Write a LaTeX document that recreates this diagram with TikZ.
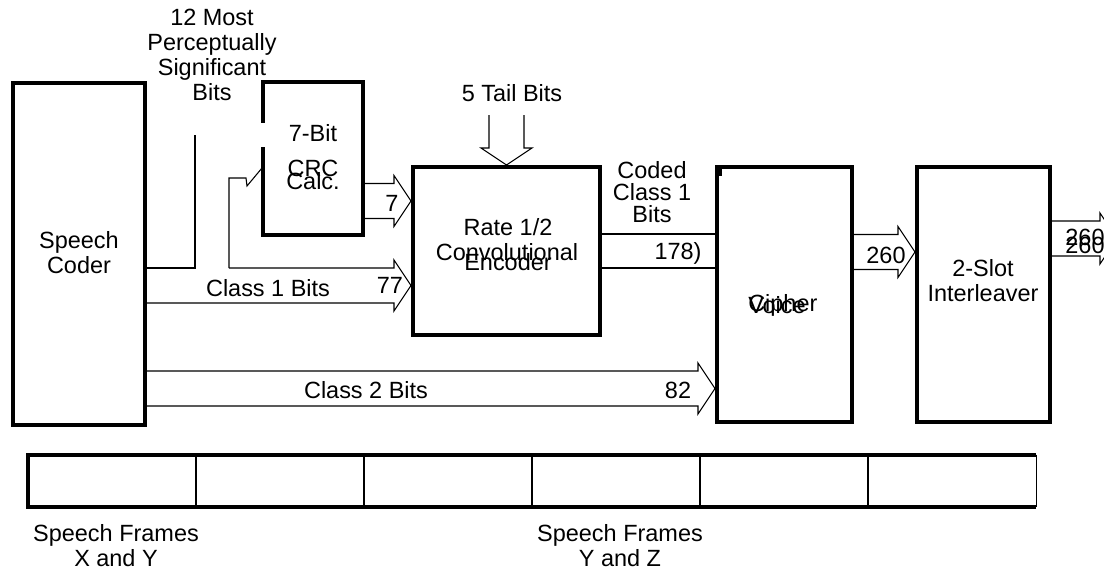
\documentclass[tikz,border=0pt]{standalone}
\usepackage{fontspec}
\setmainfont{Liberation Sans}
\usetikzlibrary{calc,fit}

\newcommand{\fatarrow}[3]{%
  \draw[wire] ($(#1 |- #3)+(0,-17.5)$) -- ($(#3)+(-17,-17.5)$) -- ($(#3)+(-17,-25.5)$)
    -- (#3) -- ($(#3)+(-17,25.5)$) -- ($(#3)+(-17,17.5)$) -- ($(#2 |- #3)+(0,17.5)$);}

\begin{document}
\begin{tikzpicture}[x=0.75pt,y=-0.75pt,
  box/.style={draw,line width=3pt,inner sep=0pt},
  wire/.style={line width=0.8pt,line join=miter},
  lbl/.style={inner sep=0pt,align=center,font=\fontsize{17.6}{18.8}\selectfont}]
\useasboundingbox (0,0) rectangle (1104,572);

\node[box,fit={(13,83) (145,425)}] (coder) {};
\node[inner sep=0pt,fit={(263,82) (363,235)}] (crc) {};
\node[box,fit={(413,167) (600,335)}] (enc) {};
\node[box,fit={(717,167) (852,422)}] (cipher) {};
\node[box,fit={(917,167) (1050,422)}] (ilv) {};
\node[inner sep=0pt,fit={(28,455) (1036,507)}] (frames) {};

\draw[line width=3pt] ($(crc.north west)+(0,41)$) -- (crc.north west) -- (crc.north east)
  -- (crc.south east) -- (crc.south west) -- ($(crc.south west)+(0,-88)$);
\fill (717,168) rectangle (722,176);

\draw[line width=3pt] (frames.north east) -- (frames.north west) -- (frames.south west) -- (frames.south east);
\draw[wire] (frames.north east) -- (frames.south east);
\foreach \x in {196,364,532,700,868}
  \draw[wire] (frames.north -| \x,0) -- (frames.south -| \x,0);

\node[lbl] (coderlbl) at (79,253) {Speech\\Coder};
\node[lbl] (crcbit) at (313,133) {7-Bit};
\node[lbl] (crcname) at (313,168) {CRC};
\node[lbl] (crccalc) at (313,181) {Calc.};
\node[lbl] (encrate) at (508,227) {Rate 1/2};
\node[lbl] (encconv) at (507,252) {Convolutional};
\node[lbl] (encname) at (508,262) {Encoder};
\node[lbl,anchor=west] (ciphername) at (748,305) {Cipher};
\node[lbl,anchor=west] (voicename) at (748,305) {Voice};
\node[lbl] (ilvlbl) at (983,280.5) {2-Slot\\Interleaver};

\node[lbl] (msblbl) at (212,55) {12 Most\\Perceptually\\Significant\\Bits};
\node[lbl] (taillbl) at (512,93) {5 Tail Bits};
\node[lbl,font=\fontsize{17.6}{16.5}\selectfont] (codedlbl) at (652,192) {Coded\\Class 1\\Bits};
\node[lbl] (n178) at (678,253) {178)};
\node[lbl] (n7) at (392,203) {7};
\node[lbl] (class1lbl) at (268,288) {Class 1 Bits};
\node[lbl] (n77) at (390,285) {77};
\node[lbl] (class2lbl) at (366,390) {Class 2 Bits};
\node[lbl] (n82) at (678,390) {82};
\node[lbl] (n260) at (886,255) {260};
\node[lbl] (out260a) at (1085,237) {260};
\node[lbl] (out260b) at (1085,245) {260};
\node[lbl] (frameslbla) at (116,546) {Speech Frames\\X and Y};
\node[lbl] (frameslblb) at (620,546) {Speech Frames\\Y and Z};

\coordinate (msbend) at (195,135);
\coordinate (bend) at (229,268);
\coordinate (crcin) at (262,168);
\coordinate (t7) at (enc.west |- 0,201);
\coordinate (t77) at (enc.west |- 0,285.5);
\coordinate (t82) at (cipher.west |- 0,388.5);
\coordinate (t260) at (ilv.west |- 0,252);
\coordinate (tout) at (1117,238.5);

\draw[wire] (coder.east |- 0,268) -| (msbend);
\draw[wire] (crcin) -- (247,186) -- (246,178) -| (bend);

\fatarrow{crc.east}{crc.east}{t7}
\fatarrow{bend}{coder.east}{t77}
\fatarrow{coder.east}{coder.east}{t82}
\fatarrow{cipher.east}{cipher.east}{t260}
\fatarrow{ilv.east}{ilv.east}{tout}

\draw[wire] ($(enc.north)+(-17.5,-50)$) -- ($(enc.north)+(-17.5,-17)$) -- ($(enc.north)+(-25.5,-17)$)
  -- (enc.north) -- ($(enc.north)+(25.5,-17)$) -- ($(enc.north)+(17.5,-17)$) -- ($(enc.north)+(17.5,-50)$);

\draw[wire] (enc.east |- 0,234) -- (cipher.west |- 0,234);
\draw[wire] (enc.east |- 0,268) -- (cipher.west |- 0,268);
\end{tikzpicture}
\end{document}
